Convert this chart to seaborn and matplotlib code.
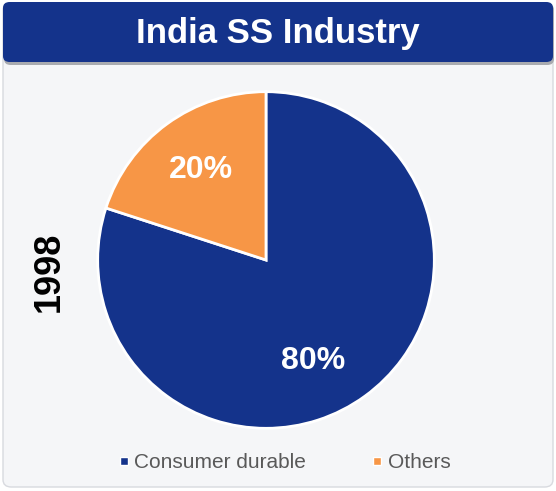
import numpy as np
import matplotlib
matplotlib.use("Agg")
import matplotlib.pyplot as plt
from matplotlib.patches import FancyBboxPatch
from matplotlib.lines import Line2D
import seaborn as sns

# data
categories = ["Consumer durable", "Others"]
shares = [80, 20]
year_label = "1998"
title = "India SS Industry"
colors = ["#14338B", "#F79646"]

sns.set_theme(style="white")
plt.rcParams["font.family"] = ["Liberation Sans", "DejaVu Sans"]

fig = plt.figure(figsize=(5.56, 4.91), dpi=100)
fig.patch.set_facecolor("white")
W, H = 556, 491

def fx(px):
    return px / W

def fy(py):
    return 1 - py / H

# panel background
panel = FancyBboxPatch((fx(3), fy(487)), fx(550), (487 - 3) / H,
                       boxstyle="round,pad=0,rounding_size=0.015",
                       transform=fig.transFigure, facecolor="#F5F6F8",
                       edgecolor="#D8DADF", linewidth=1, zorder=-3)
fig.patches.append(panel)

# title banner shadow + banner
shadow = FancyBboxPatch((fx(4), fy(65)), fx(550), (65 - 4) / H,
                        boxstyle="round,pad=0,rounding_size=0.012",
                        transform=fig.transFigure, facecolor="#A9ABB0",
                        edgecolor="none", zorder=-2)
fig.patches.append(shadow)
banner = FancyBboxPatch((fx(3), fy(62)), fx(550), (62 - 2) / H,
                        boxstyle="round,pad=0,rounding_size=0.012",
                        transform=fig.transFigure, facecolor="#14338B",
                        edgecolor="none", zorder=-1)
fig.patches.append(banner)
fig.text(0.5, fy(33), title, ha="center", va="center", color="white",
         fontsize=25, fontweight="bold", zorder=3)

# pie
cx, cy, r = 266, 260, 170
ax = fig.add_axes([fx(cx - r), fy(cy + r), 2 * r / W, 2 * r / H])
ax.set_zorder(2)
ax.set_facecolor("none")
wedges, texts, autotexts = ax.pie(
    shares, colors=colors, startangle=90, counterclock=False,
    autopct="%1.0f%%", pctdistance=0.66, radius=1,
    wedgeprops=dict(edgecolor="white", linewidth=2),
    textprops=dict(color="white", fontsize=23, fontweight="bold"))
# the big slice's label sits a bit lower in the original
autotexts[0].set_position((0.28, -0.6))
ax.set_xlim(-1.01, 1.01)
ax.set_ylim(-1.01, 1.01)
ax.set_aspect("equal")

fig.text(fx(49), fy(272), year_label, rotation=90, ha="center", va="center",
         fontsize=26, fontweight="bold", color="black")

handles = [Line2D([0], [0], marker="s", linestyle="none", markersize=6,
                  markerfacecolor=c, markeredgecolor="white") for c in colors]
fig.legend(handles, categories, loc="center", bbox_to_anchor=(fx(283), fy(463)),
           ncol=2, frameon=False, fontsize=15, handletextpad=0.1,
           handlelength=0.8, columnspacing=3.0, labelcolor="#595959")

fig.savefig("out.png", dpi=100)
